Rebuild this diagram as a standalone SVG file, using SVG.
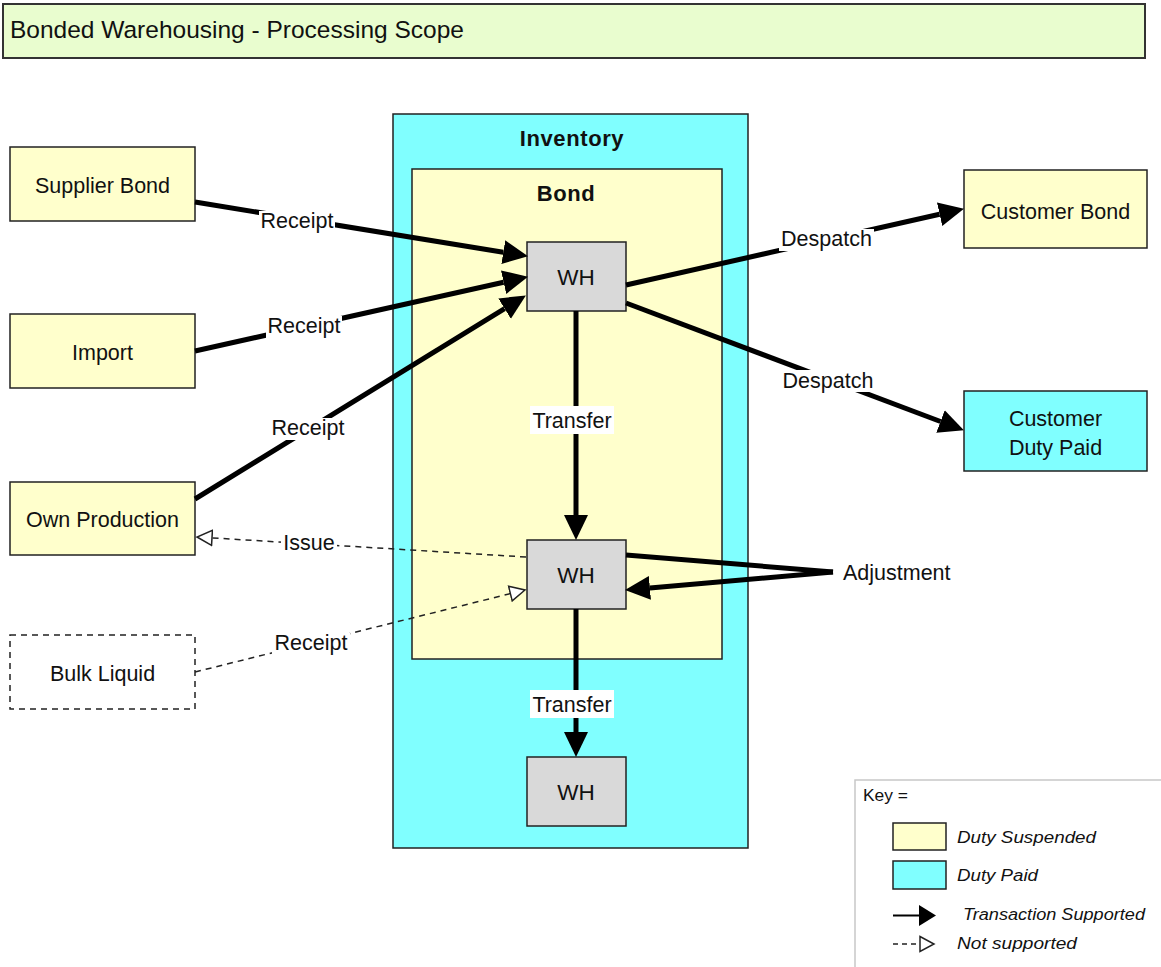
<svg xmlns="http://www.w3.org/2000/svg" width="1161" height="967" viewBox="0 0 1161 967">
<style>
  .box { stroke:#222; stroke-width:1.5; }
  .y { fill:#ffffcc; }
  .c { fill:#80ffff; }
  .g { fill:#d9d9d9; }
  .t { font-family:"Liberation Sans", Arial, sans-serif; font-size:21.5px; fill:#111; text-anchor:middle; }
  .b { font-weight:bold; font-size:22px; letter-spacing:0.6px; }
  .wht { font-size:22.5px; }
  .bg { fill:#ffffff; }
  .solid { stroke:#000; stroke-width:5; fill:none; marker-end:url(#arr); }
  .plain { stroke:#000; stroke-width:5; fill:none; }
  .dash { stroke:#222; stroke-width:1.5; stroke-dasharray:6 5; fill:none; marker-end:url(#harr); }
  .key { font-family:"Liberation Sans", Arial, sans-serif; font-size:16px; fill:#111; }
  .ki { font-style:italic; }
</style>
<defs>
  <marker id="arr" markerUnits="userSpaceOnUse" markerWidth="27" markerHeight="26" refX="0" refY="13" orient="auto">
    <path d="M0,1 L25,13 L0,25 z" fill="#000"/>
  </marker>
  <marker id="harr" markerUnits="userSpaceOnUse" markerWidth="18" markerHeight="18" refX="1" refY="9" orient="auto">
    <path d="M1,1.5 L16,9 L1,16.5 z" fill="#fff" stroke="#222" stroke-width="1.5"/>
  </marker>
</defs>
<rect width="1161" height="967" fill="#fff"/>

<g id="title">
  <rect x="3" y="4" width="1142" height="54" fill="#e9fdcf" stroke="#333" stroke-width="2"/>
  <text x="10" y="38" style="font-family:'Liberation Sans', Arial, sans-serif; font-size:24.5px; fill:#111">Bonded Warehousing - Processing Scope</text>
</g>

<g id="inventory">
  <rect class="box c" x="393" y="114" width="355" height="734"/>
  <text class="t b" x="572" y="146">Inventory</text>
</g>
<g id="bond">
  <rect class="box y" x="412" y="169" width="310" height="490"/>
  <text class="t b" x="566" y="201">Bond</text>
</g>

<g id="wh1">
  <rect class="box g" x="527" y="242" width="99" height="69"/>
  <text class="t wht" x="576" y="285">WH</text>
</g>
<g id="wh2">
  <rect class="box g" x="527" y="540" width="99" height="69"/>
  <text class="t wht" x="576" y="583">WH</text>
</g>
<g id="wh3">
  <rect class="box g" x="527" y="757" width="99" height="69"/>
  <text class="t wht" x="576" y="800">WH</text>
</g>

<g id="supplier-bond">
  <rect class="box y" x="10" y="147" width="185" height="74"/>
  <text class="t" x="102.5" y="193">Supplier Bond</text>
</g>
<g id="import">
  <rect class="box y" x="10" y="314" width="185" height="74"/>
  <text class="t" x="102.5" y="360">Import</text>
</g>
<g id="own-production">
  <rect class="box y" x="10" y="482" width="185" height="73"/>
  <text class="t" x="102.5" y="527">Own Production</text>
</g>
<g id="bulk-liquid">
  <rect x="10" y="635" width="185" height="74" fill="#fff" stroke="#222" stroke-width="1.5" stroke-dasharray="6 5"/>
  <text class="t" x="102.5" y="681">Bulk Liquid</text>
</g>
<g id="customer-bond">
  <rect class="box y" x="964" y="170" width="183" height="78"/>
  <text class="t" x="1055.5" y="219">Customer Bond</text>
</g>
<g id="customer-duty-paid">
  <rect class="box c" x="964" y="391" width="183" height="80"/>
  <text class="t" x="1055.5" y="426">Customer</text>
  <text class="t" x="1055.5" y="455">Duty Paid</text>
</g>

<g id="connectors">
  <!-- receipts into WH1 -->
  <line class="solid" x1="195" y1="202" x2="503.3" y2="252.2"/>
  <line class="solid" x1="195" y1="351" x2="503.6" y2="282.2"/>
  <line class="solid" x1="195" y1="499" x2="504.6" y2="308.6"/>
  <!-- despatches -->
  <line class="solid" x1="626" y1="285" x2="939.6" y2="214.3"/>
  <line class="solid" x1="626" y1="303" x2="940.5" y2="421.5"/>
  <!-- transfers -->
  <line class="solid" x1="576" y1="311" x2="576" y2="515"/>
  <line class="solid" x1="576" y1="609" x2="576" y2="732"/>
  <!-- adjustment -->
  <line class="plain" x1="626" y1="555" x2="833" y2="572"/>
  <line class="solid" x1="833" y1="572" x2="649.9" y2="587.9"/>
  <!-- not supported -->
  <line class="dash" x1="526" y1="557" x2="212" y2="537.9"/>
  <line class="dash" x1="195" y1="672" x2="510.4" y2="593.6"/>

  <!-- labels -->
  <rect class="bg" x="259" y="211" width="76" height="22"/>
  <text class="t" x="297" y="228">Receipt</text>
  <rect class="bg" x="266" y="316" width="76" height="22"/>
  <text class="t" x="304" y="333">Receipt</text>
  <rect class="bg" x="270" y="418" width="76" height="22"/>
  <text class="t" x="308" y="435">Receipt</text>
  <rect class="bg" x="779" y="229" width="95" height="22"/>
  <text class="t" x="826.5" y="246">Despatch</text>
  <rect class="bg" x="780" y="370" width="95" height="22"/>
  <text class="t" x="828" y="387.5">Despatch</text>
  <rect class="bg" x="530" y="406" width="84" height="28"/>
  <text class="t" x="572" y="428">Transfer</text>
  <rect class="bg" x="530" y="690" width="84" height="28"/>
  <text class="t" x="572" y="712">Transfer</text>
  <rect class="bg" x="281" y="533" width="56" height="22"/>
  <text class="t" x="309" y="550">Issue</text>
  <rect class="bg" x="272" y="633" width="78" height="22"/>
  <text class="t" x="311" y="650">Receipt</text>
  <text class="t" x="843" y="580" style="text-anchor:start">Adjustment</text>
</g>

<g id="legend">
  <rect x="855" y="780" width="320" height="200" fill="#fff" stroke="#c8c8c8" stroke-width="1.5"/>
  <text class="key" x="863" y="801" textLength="45" lengthAdjust="spacingAndGlyphs">Key =</text>
  <rect class="box y" x="893" y="823" width="53" height="27"/>
  <text class="key ki" x="957" y="843" textLength="139" lengthAdjust="spacingAndGlyphs">Duty Suspended</text>
  <rect class="box c" x="893" y="861" width="53" height="28"/>
  <text class="key ki" x="957" y="881" textLength="81" lengthAdjust="spacingAndGlyphs">Duty Paid</text>
  <line x1="893" y1="915.5" x2="921" y2="915.5" stroke="#000" stroke-width="2"/>
  <path d="M919,905 L936,915.5 L919,926 z" fill="#000"/>
  <text class="key ki" x="963" y="920" textLength="182" lengthAdjust="spacingAndGlyphs">Transaction Supported</text>
  <line x1="893" y1="944" x2="920" y2="944" stroke="#222" stroke-width="1.5" stroke-dasharray="5 4"/>
  <path d="M920,936.5 L934,944 L920,951.5 z" fill="#fff" stroke="#222" stroke-width="1.5"/>
  <text class="key ki" x="957" y="949" textLength="120" lengthAdjust="spacingAndGlyphs">Not supported</text>
</g>
</svg>
